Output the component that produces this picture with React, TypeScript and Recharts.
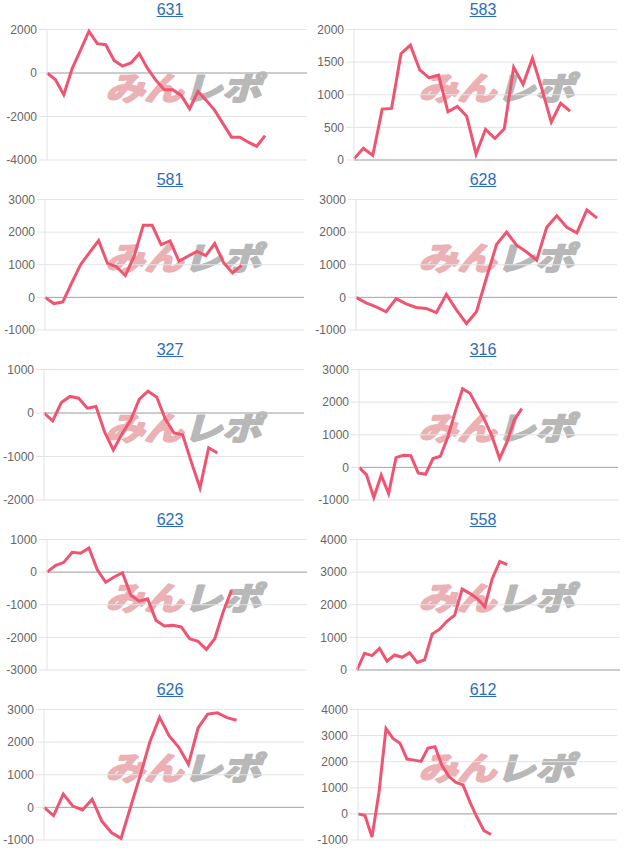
import { LineChart, Line, XAxis, YAxis, CartesianGrid, ReferenceLine } from 'recharts';

// panel titles (machine numbers), left-to-right, top-to-bottom
const titles = ['631', '583', '581', '628', '327', '316', '623', '558', '626', '612'];

// cumulative values per machine
const p631 = [0, -300, -1000, 200, 1050, 1920, 1350, 1300, 580, 320, 460, 890, 200, -340, -770, -770, -1030, -1650, -850, -1260, -1720, -2340, -2950, -2950, -3180, -3370, -2880];
const p583 = [20, 180, 70, 780, 790, 1630, 1760, 1380, 1260, 1300, 740, 820, 670, 90, 470, 330, 480, 1420, 1160, 1560, 1090, 580, 870, 750];
const p581 = [0, -190, -140, 450, 1010, 1380, 1740, 1040, 940, 670, 1280, 2210, 2210, 1620, 1730, 1110, 1260, 1410, 1280, 1650, 1060, 750, 980];
const p628 = [0, -170, -290, -440, -40, -200, -310, -340, -470, 90, -380, -800, -440, 600, 1620, 2000, 1600, 1390, 1140, 2150, 2500, 2150, 1980, 2680, 2430];
const p327 = [0, -180, 240, 380, 340, 110, 150, -440, -850, -480, -160, 320, 500, 370, -140, -460, -500, -1130, -1720, -800, -920];
const p316 = [0, -220, -920, -240, -800, 300, 370, 360, -170, -210, 270, 340, 930, 1700, 2410, 2270, 1850, 1440, 940, 270, 780, 1460, 1800];
const p623 = [0, 200, 300, 610, 580, 740, 70, -310, -150, -20, -710, -890, -820, -1480, -1650, -1630, -1680, -2040, -2120, -2370, -2040, -1220, -560];
const p558 = [0, 510, 440, 660, 270, 460, 390, 530, 230, 310, 1100, 1250, 1500, 1680, 2480, 2350, 2190, 1940, 2800, 3330, 3230];
const p626 = [0, -250, 410, 40, -80, 250, -420, -770, -950, 20, 990, 2010, 2760, 2190, 1840, 1320, 2440, 2860, 2900, 2750, 2670];
const p612 = [0, -60, -890, 830, 3270, 2890, 2710, 2100, 2060, 2010, 2520, 2570, 1850, 1430, 1210, 1110, 450, -130, -640, -790];

const series = [p631, p583, p581, p628, p327, p316, p623, p558, p626, p612];

// number of day slots on each x axis
const slots = [32, 29, 30, 27, 31, 36, 32, 36, 28, 38];

// y tick labels
const ticks631 = [-4000, -2000, 0, 2000];
const ticks583 = [0, 500, 1000, 1500, 2000];
const ticks581 = [-1000, 0, 1000, 2000, 3000];
const ticks628 = [-1000, 0, 1000, 2000, 3000];
const ticks327 = [-2000, -1000, 0, 1000];
const ticks316 = [-1000, 0, 1000, 2000, 3000];
const ticks623 = [-3000, -2000, -1000, 0, 1000];
const ticks558 = [0, 1000, 2000, 3000, 4000];
const ticks626 = [-1000, 0, 1000, 2000, 3000];
const ticks612 = [-1000, 0, 1000, 2000, 3000, 4000];

const tickSets = [ticks631, ticks583, ticks581, ticks628, ticks327, ticks316, ticks623, ticks558, ticks626, ticks612];

// layout tweaks: y-axis x position and right edge inside each 313px cell
const axisX = [47, 41, 45, 43, 44, 46, 47, 44, 44, 45];
const rightX = [307, 304, 304, 304, 304, 305, 307, 307, 304, 304];

const PANEL_W = 313;
const PANEL_H = 170;
const LINE = '#ef5470';
const FONT = '"Liberation Sans", Arial, sans-serif';

// site logo drawn faintly behind each plot
function Watermark({ left, top }: { left: number; top: number }) {
  return (
    <svg width={220} height={60} style={{ position: 'absolute', left, top }}>
      <g transform="skewX(-16)">
        <text
          x={30}
          y={44}
          fontSize={32}
          fontWeight={700}
          fontFamily='"Noto Sans CJK JP", sans-serif'
          textLength={156}
          lengthAdjust="spacingAndGlyphs"
          strokeWidth={2.2}
          strokeLinejoin="round"
        >
          <tspan fill="#ecb1b5" stroke="#ecb1b5">みん</tspan>
          <tspan fill="#b8b8b8" stroke="#b8b8b8">レポ</tspan>
        </text>
      </g>
    </svg>
  );
}

function Panel({ idx }: { idx: number }) {
  const col = idx % 2;
  const row = Math.floor(idx / 2);
  const left = col * PANEL_W;
  const top = row * PANEL_H;
  const values = series[idx];
  const ticks = tickSets[idx];

  const data = [];
  for (let i = 0; i < slots[idx]; i++) {
    data.push({ d: i + 1, v: i < values.length ? values[i] : null });
  }

  return (
    <>
      <div
        style={{
          position: 'absolute', left: left + 20, top: top, width: 300, textAlign: 'center',
          fontFamily: FONT, fontSize: 16, lineHeight: '20px', color: '#2a6ebb', textDecoration: 'underline',
        }}
      >
        {titles[idx]}
      </div>
      <Watermark left={left + 88} top={top + 56} />
      <div style={{ position: 'absolute', left, top }}>
        <LineChart
          width={PANEL_W}
          height={PANEL_H}
          data={data}
          margin={{ top: 29.5, right: PANEL_W - rightX[idx], bottom: 10, left: 0 }}
        >
          <CartesianGrid vertical={false} stroke="#e3e3e3" />
          <XAxis dataKey="d" hide padding={{ left: 0, right: 0 }} />
          <YAxis
            width={axisX[idx]}
            domain={[ticks[0], ticks[ticks.length - 1]]}
            ticks={ticks}
            interval={0}
            tickSize={8}
            tickMargin={2}
            axisLine={{ stroke: '#e3e3e3' }}
            tickLine={{ stroke: '#e3e3e3' }}
            tick={{ fill: '#666', fontSize: 12, fontFamily: FONT }}
          />
          <ReferenceLine y={0} stroke="#a8a8a8" />
          <Line
            type="linear"
            dataKey="v"
            stroke={LINE}
            strokeWidth={3}
            dot={false}
            activeDot={false}
            isAnimationActive={false}
          />
        </LineChart>
      </div>
    </>
  );
}

export default function App() {
  return (
    <div style={{ position: 'absolute', left: 0, top: 0, width: 626, height: 850, background: '#fff' }}>
      {titles.map((t, i) => (
        <Panel key={t} idx={i} />
      ))}
    </div>
  );
}
